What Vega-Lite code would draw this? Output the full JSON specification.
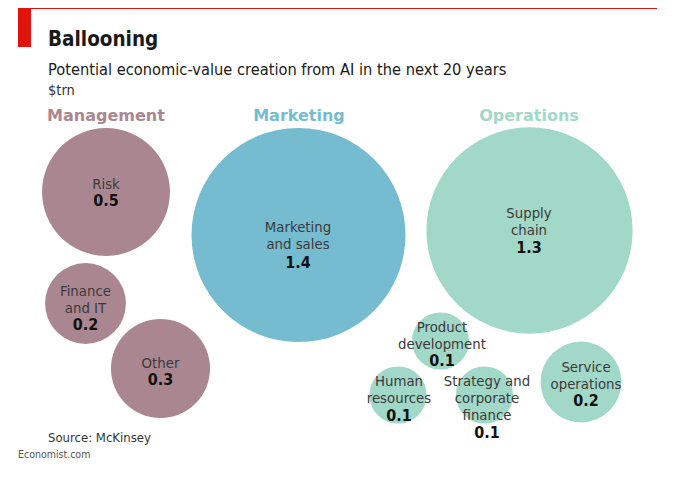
{
  "$schema": "https://vega.github.io/schema/vega-lite/v6.json",
  "width": 677,
  "height": 484,
  "autosize": "none",
  "padding": 0,
  "background": "white",
  "config": {"view": {"stroke": null}},
  "datasets": {
    "bubbles": [
      {"group": "Management", "label": "Risk", "value": 0.5, "cx": 106, "cy": 192, "tx": 106, "ly": 177, "ty": 201},
      {"group": "Management", "label": "Finance\nand IT", "value": 0.2, "cx": 85.5, "cy": 303.5, "tx": 85.5, "ly": 284, "ty": 325},
      {"group": "Management", "label": "Other", "value": 0.3, "cx": 160.5, "cy": 368.5, "tx": 160.5, "ly": 356, "ty": 380},
      {"group": "Marketing", "label": "Marketing\nand sales", "value": 1.4, "cx": 298.5, "cy": 235, "tx": 298, "ly": 220, "ty": 263},
      {"group": "Operations", "label": "Supply\nchain", "value": 1.3, "cx": 529.5, "cy": 230.5, "tx": 529, "ly": 206, "ty": 248},
      {"group": "Operations", "label": "Product\ndevelopment", "value": 0.1, "cx": 440.5, "cy": 341, "tx": 442, "ly": 320, "ty": 361},
      {"group": "Operations", "label": "Human\nresources", "value": 0.1, "cx": 398, "cy": 395, "tx": 399, "ly": 374, "ty": 416},
      {"group": "Operations", "label": "Strategy and\ncorporate\nfinance", "value": 0.1, "cx": 484.5, "cy": 395, "tx": 487, "ly": 374, "ty": 433},
      {"group": "Operations", "label": "Service\noperations", "value": 0.2, "cx": 581, "cy": 382, "tx": 586, "ly": 360, "ty": 401}
    ],
    "headers": [
      {"group": "Management", "hx": 106, "hy": 116},
      {"group": "Marketing", "hx": 299, "hy": 116},
      {"group": "Operations", "hx": 529, "hy": 116}
    ]
  },
  "layer": [
    {
      "data": {"values": [{"x1": 18, "x2": 657, "y": 8.5}]},
      "mark": {"type": "rule", "color": "#e3120b", "strokeWidth": 1},
      "encoding": {
        "x": {"field": "x1", "type": "quantitative", "scale": {"domain": [0, 677], "nice": false, "zero": false}, "axis": null},
        "x2": {"field": "x2"},
        "y": {"field": "y", "type": "quantitative", "scale": {"domain": [0, 484], "nice": false, "zero": false, "reverse": true}, "axis": null}
      }
    },
    {
      "data": {"values": [{"x1": 18, "x2": 31, "y1": 8, "y2": 47}]},
      "mark": {"type": "rect", "color": "#e3120b"},
      "encoding": {
        "x": {"field": "x1", "type": "quantitative", "scale": {"domain": [0, 677], "nice": false, "zero": false}, "axis": null},
        "x2": {"field": "x2"},
        "y": {"field": "y1", "type": "quantitative", "scale": {"domain": [0, 484], "nice": false, "zero": false, "reverse": true}, "axis": null},
        "y2": {"field": "y2"}
      }
    },
    {
      "data": {"values": [{"t": "Ballooning", "x": 48, "y": 40}]},
      "mark": {"type": "text", "align": "left", "baseline": "middle", "font": "DejaVu Sans Condensed", "fontWeight": "bold", "fontSize": 20.5, "color": "#1a1a1a"},
      "encoding": {
        "x": {"field": "x", "type": "quantitative", "scale": {"domain": [0, 677], "nice": false, "zero": false}, "axis": null},
        "y": {"field": "y", "type": "quantitative", "scale": {"domain": [0, 484], "nice": false, "zero": false, "reverse": true}, "axis": null},
        "text": {"field": "t"}
      }
    },
    {
      "data": {"values": [{"t": "Potential economic-value creation from AI in the next 20 years", "x": 48, "y": 70}]},
      "mark": {"type": "text", "align": "left", "baseline": "middle", "font": "DejaVu Sans Condensed", "fontSize": 16.3, "color": "#1a1a1a"},
      "encoding": {
        "x": {"field": "x", "type": "quantitative", "scale": {"domain": [0, 677], "nice": false, "zero": false}, "axis": null},
        "y": {"field": "y", "type": "quantitative", "scale": {"domain": [0, 484], "nice": false, "zero": false, "reverse": true}, "axis": null},
        "text": {"field": "t"}
      }
    },
    {
      "data": {"values": [{"t": "$trn", "x": 48, "y": 91}]},
      "mark": {"type": "text", "align": "left", "baseline": "middle", "font": "DejaVu Sans Condensed", "fontSize": 14.5, "color": "#333333"},
      "encoding": {
        "x": {"field": "x", "type": "quantitative", "scale": {"domain": [0, 677], "nice": false, "zero": false}, "axis": null},
        "y": {"field": "y", "type": "quantitative", "scale": {"domain": [0, 484], "nice": false, "zero": false, "reverse": true}, "axis": null},
        "text": {"field": "t"}
      }
    },
    {
      "data": {"values": [{"t": "Source: McKinsey", "x": 48, "y": 438}]},
      "mark": {"type": "text", "align": "left", "baseline": "middle", "font": "DejaVu Sans Condensed", "fontSize": 13, "color": "#333333"},
      "encoding": {
        "x": {"field": "x", "type": "quantitative", "scale": {"domain": [0, 677], "nice": false, "zero": false}, "axis": null},
        "y": {"field": "y", "type": "quantitative", "scale": {"domain": [0, 484], "nice": false, "zero": false, "reverse": true}, "axis": null},
        "text": {"field": "t"}
      }
    },
    {
      "data": {"values": [{"t": "Economist.com", "x": 18, "y": 455}]},
      "mark": {"type": "text", "align": "left", "baseline": "middle", "font": "DejaVu Sans Condensed", "fontSize": 10.5, "color": "#555555"},
      "encoding": {
        "x": {"field": "x", "type": "quantitative", "scale": {"domain": [0, 677], "nice": false, "zero": false}, "axis": null},
        "y": {"field": "y", "type": "quantitative", "scale": {"domain": [0, 484], "nice": false, "zero": false, "reverse": true}, "axis": null},
        "text": {"field": "t"}
      }
    },
    {
      "data": {"name": "headers"},
      "mark": {"type": "text", "align": "center", "baseline": "middle", "font": "DejaVu Sans", "fontWeight": "bold", "fontSize": 16},
      "encoding": {
        "x": {"field": "hx", "type": "quantitative", "scale": {"domain": [0, 677], "nice": false, "zero": false}, "axis": null},
        "y": {"field": "hy", "type": "quantitative", "scale": {"domain": [0, 484], "nice": false, "zero": false, "reverse": true}, "axis": null},
        "text": {"field": "group"},
        "color": {"field": "group", "type": "nominal", "scale": {"domain": ["Management", "Marketing", "Operations"], "range": ["#aa8790", "#76bcd1", "#a1d8c8"]}, "legend": null}
      }
    },
    {
      "data": {"name": "bubbles"},
      "mark": {"type": "circle", "opacity": 1},
      "encoding": {
        "x": {"field": "cx", "type": "quantitative", "scale": {"domain": [0, 677], "nice": false, "zero": false}, "axis": null},
        "y": {"field": "cy", "type": "quantitative", "scale": {"domain": [0, 484], "nice": false, "zero": false, "reverse": true}, "axis": null},
        "size": {"field": "value", "type": "quantitative", "scale": {"domain": [0, 1.4], "range": [0, 45796]}, "legend": null},
        "color": {"field": "group", "type": "nominal", "legend": null}
      }
    },
    {
      "data": {"name": "bubbles"},
      "mark": {"type": "text", "align": "center", "baseline": "top", "lineBreak": "\n", "lineHeight": 17, "font": "DejaVu Sans Condensed", "fontSize": 14.8, "color": "#3a3a3a"},
      "encoding": {
        "x": {"field": "tx", "type": "quantitative", "scale": {"domain": [0, 677], "nice": false, "zero": false}, "axis": null},
        "y": {"field": "ly", "type": "quantitative", "scale": {"domain": [0, 484], "nice": false, "zero": false, "reverse": true}, "axis": null},
        "text": {"field": "label"}
      }
    },
    {
      "data": {"name": "bubbles"},
      "mark": {"type": "text", "align": "center", "baseline": "middle", "font": "DejaVu Sans Condensed", "fontWeight": "bold", "fontSize": 16, "color": "#111111"},
      "encoding": {
        "x": {"field": "tx", "type": "quantitative", "scale": {"domain": [0, 677], "nice": false, "zero": false}, "axis": null},
        "y": {"field": "ty", "type": "quantitative", "scale": {"domain": [0, 484], "nice": false, "zero": false, "reverse": true}, "axis": null},
        "text": {"field": "value", "type": "quantitative", "format": ".1f"}
      }
    }
  ]
}
